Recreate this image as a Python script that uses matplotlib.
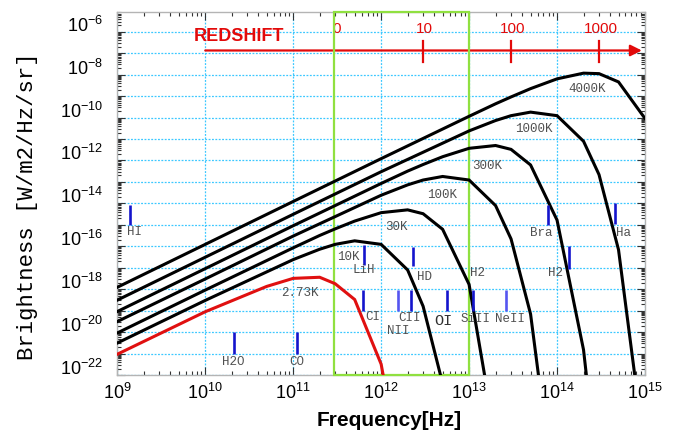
import matplotlib
matplotlib.use("Agg")
import matplotlib.pyplot as plt
import matplotlib.transforms as mtransforms
from matplotlib.patches import Rectangle
from matplotlib.ticker import FixedLocator, LogLocator, NullFormatter

plt.rcParams['font.family'] = ['Liberation Sans', 'DejaVu Sans']
plt.rcParams['mathtext.default'] = 'regular'

# ---------------- data ----------------
temp_labels = ['2.73K', '10K', '30K', '100K', '300K', '1000K', '4000K']

freq_2K = [1e9, 1e10, 5e10, 1e11, 2e11, 3e11, 5e11, 1e12, 2e12]
bright_2K = [9.3e-22, 8.9e-20, 1.35e-18, 3.2e-18, 3.6e-18, 1.8e-18, 3.3e-19, 3.2e-22, 6e-29]

freq_10K = [1e9, 1e10, 1e11, 2e11, 3e11, 5e11, 1e12, 2e12, 3e12, 5e12]
bright_10K = [3.1e-21, 3.0e-19, 2.4e-17, 7.3e-17, 1.23e-16, 1.8e-16, 1.23e-16, 7.9e-18, 1.6e-19, 4e-23]

freq_30K = [1e9, 1e10, 1e11, 2e11, 3e11, 5e11, 1e12, 2e12, 3e12, 5e12, 1e13, 2e13]
bright_30K = [9.1e-21, 9.1e-19, 8.5e-17, 3.2e-16, 6.5e-16, 1.5e-15, 3.7e-15, 5.0e-15, 3.3e-15, 6.2e-16, 1.66e-18, 1e-25]

freq_100K = [1e9, 1e10, 1e11, 1e12, 2e12, 3e12, 5e12, 1e13, 2e13, 3e13, 5e13, 1e14]
bright_100K = [3.1e-20, 3.0e-18, 3.0e-16, 2.4e-14, 7.3e-14, 1.23e-13, 1.8e-13, 1.23e-13, 7.9e-15, 2.2e-16, 6.9e-20, 2e-29]

freq_300K = [1e9, 1e10, 1e11, 1e12, 2e12, 3e12, 5e12, 1e13, 2e13, 3e13, 5e13, 1e14, 2e14, 3e14]
bright_300K = [9.1e-20, 9.1e-18, 9.1e-16, 8.5e-14, 3.2e-13, 6.5e-13, 1.5e-12, 3.7e-12, 5.0e-12, 3.3e-12, 6.2e-13, 1.66e-15, 1.5e-21, 5.6e-28]

freq_1000K = [1e9, 1e10, 1e11, 1e12, 1e13, 2e13, 3e13, 5e13, 1e14, 2e14, 3e14, 5e14, 1e15]
bright_1000K = [3.1e-19, 3.1e-17, 3.1e-15, 3.0e-13, 2.4e-11, 7.3e-11, 1.23e-10, 1.8e-10, 1.23e-10, 7.9e-12, 2.2e-13, 6.9e-17, 2e-26]

freq_4000K = [1e9, 1e10, 1e11, 1e12, 1e13, 2e13, 3e13, 5e13, 1e14, 2e14, 3e14, 5e14, 1e15]
bright_4000K = [1.23e-18, 1.23e-16, 1.23e-14, 1.22e-12, 1.15e-10, 4.4e-10, 9.2e-10, 2.24e-9, 6.4e-9, 1.18e-8, 1.12e-8, 4.6e-9, 9.1e-11]

# spectral line markers: name, frequency, lower/upper brightness of the tick
line_names = ['HI', 'H2O', 'CO', 'LiH', 'HD', 'H2', 'CI', 'NII', 'CII', 'OI', 'SiII', 'NeII', 'Bra', 'Ha']
line_freq = [1.38e9, 2.14e10, 1.10e11, 6.3e11, 2.3e12, 1.35e14, 6.2e11, 1.57e12, 2.19e12, 5.55e12, 1.1e13, 2.63e13, 7.9e13, 4.57e14]
line_lo = [1e-15, 1e-21, 1e-21, 1.3e-17, 1.2e-17, 9e-18, 1e-19, 1e-19, 1e-19, 1e-19, 1e-19, 1e-19, 1e-15, 1.1e-15]
line_hi = [8.5e-15, 1e-20, 1e-20, 1.2e-16, 9e-17, 1e-16, 9e-19, 9e-19, 9e-19, 9e-19, 9e-19, 9e-19, 8.5e-15, 1e-14]

# redshift scale
redshift_labels = ['0', '10', '100', '1000']
redshift_freq = [3.0e11, 3.0e12, 3.0e13, 3.0e14]

# observing band (green box)
band_lo, band_hi = 2.9e11, 1.0e13

# ---------------- figure ----------------
W, H = 675, 432
fig = plt.figure(figsize=(W / 100, H / 100), dpi=100)
ax = fig.add_axes([117.3 / W, 57 / H, (645 - 117.3) / W, 363 / H])
ax.set_xscale('log')
ax.set_yscale('log')
ax.set_xlim(1e9, 1e15)
ax.set_ylim(1e-22, 10 ** -5.077)
ax.set_axisbelow(True)

# grid
ax.grid(True, which='major', color='#3cc8ff', linestyle=(0, (1.5, 1.2)), linewidth=0.9)

# curves
curves = [(freq_2K, bright_2K, '#e01010'),
          (freq_10K, bright_10K, 'black'),
          (freq_30K, bright_30K, 'black'),
          (freq_100K, bright_100K, 'black'),
          (freq_300K, bright_300K, 'black'),
          (freq_1000K, bright_1000K, 'black'),
          (freq_4000K, bright_4000K, 'black')]
for f, b, c in curves:
    ax.plot(f, b, color=c, lw=2.2, zorder=3, solid_joinstyle='miter')

# curve labels
label_pos = [(1.19e11, 6.5e-19), (4.24e11, 3.3e-17), (1.51e12, 7.7e-16), (4.9e12, 2.47e-14),
             (1.59e13, 5.5e-13), (5.43e13, 2.85e-11), (2.18e14, 2.1e-9)]
for name, (x, y) in zip(temp_labels, label_pos):
    ax.text(x, y, name, color='#505050', fontsize=9, family='Liberation Mono',
            ha='center', va='center', zorder=5)

# spectral line markers
light = {'NII', 'NeII'}
for n, f, lo, hi in zip(line_names, line_freq, line_lo, line_hi):
    ax.plot([f, f], [lo, hi], color='#5555f0' if n in light else '#1414cc',
            lw=1.9, zorder=4, solid_capstyle='butt')

line_label_pos = {
    'HI': (1.55e9, 4.65e-16), 'H2O': (2.08e10, 4.2e-22), 'CO': (1.10e11, 4.2e-22),
    'LiH': (6.35e11, 7.9e-18), 'HD': (3.1e12, 3.8e-18), 'H2': (1.26e13, 5.7e-18),
    'CI': (8.05e11, 5.2e-20), 'NII': (1.58e12, 1.12e-20), 'CII': (2.1e12, 4.4e-20),
    'OI': (5.16e12, 3.3e-20), 'SiII': (1.17e13, 4.2e-20), 'NeII': (2.9e13, 4.2e-20),
    'Bra': (6.6e13, 4.0e-16), 'Ha': (5.73e14, 4.0e-16),
}
for n, (x, y) in line_label_pos.items():
    big = n == 'OI'
    ax.text(x, y, n, color='#303030' if big else '#505050', fontsize=11 if big else 9,
            family='Liberation Mono', ha='center', va='center', zorder=5)
# second H2 label (near-IR line)
ax.text(9.7e13, 5.5e-18, 'H2', color='#505050', fontsize=9, family='Liberation Mono',
        ha='center', va='center', zorder=5)

# green observing band box
trans = mtransforms.blended_transform_factory(ax.transData, ax.transAxes)
ax.add_patch(Rectangle((band_lo, 0), band_hi - band_lo, 1, transform=trans, fill=False,
                       edgecolor='#90e040', lw=1.6, zorder=2.7, clip_on=False))

# redshift scale
red = '#e20a0a'
ax.annotate('', xy=(9.2e14, 0.894), xytext=(1e10, 0.894), xycoords=trans, textcoords=trans,
            arrowprops=dict(arrowstyle='-|>', color=red, lw=1.6, mutation_scale=17,
                            shrinkA=0, shrinkB=0), zorder=2.6)
for lab, f in zip(redshift_labels, redshift_freq):
    if lab != '0':
        ax.plot([f, f], [0.862, 0.920], color=red, lw=1.6, transform=trans, zorder=2.6)
    ax.text(f * 1.04, 0.953, lab, color=red, fontsize=11, ha='center', va='center',
            transform=trans, zorder=2.5)
ax.text(2.45e10, 0.933, 'REDSHIFT', color=red, fontsize=13, fontweight='bold',
        ha='center', va='center', transform=trans)

# ticks
xt = [10.0 ** e for e in range(9, 16)]
ax.xaxis.set_major_locator(FixedLocator(xt))
ax.set_xticklabels([f'$10^{{{e}}}$' for e in range(9, 16)])
yt = [10.0 ** e for e in range(-22, -5)]
ax.yaxis.set_major_locator(FixedLocator(yt))
ax.set_yticklabels([f'$10^{{{e}}}$' if e % 2 == 0 else '' for e in range(-22, -5)])
ax.xaxis.set_minor_locator(LogLocator(base=10, subs=range(2, 10), numticks=50))
ax.yaxis.set_minor_locator(LogLocator(base=10, subs=range(2, 10), numticks=50))
ax.xaxis.set_minor_formatter(NullFormatter())
ax.yaxis.set_minor_formatter(NullFormatter())
ax.tick_params(which='both', direction='in', top=True, right=True, colors='#333333',
               labelcolor='black', labelsize=13, width=0.8)
ax.tick_params(which='major', length=6)
ax.tick_params(which='minor', length=3)
ax.tick_params(axis='x', pad=6)
ax.tick_params(axis='y', pad=10)
for t in ax.get_yticklabels():
    t.set_verticalalignment('baseline')
for s in ax.spines.values():
    s.set_color('#b4b4b4')
    s.set_linewidth(1.0)

fig.text(389.5 / W, 1 - 421 / H, 'Frequency[Hz]', fontsize=15, fontweight='bold',
         ha='center', va='center')
fig.text(28 / W, 1 - 206 / H, 'Brightness [W/m2/Hz/sr]', fontsize=16, family='Liberation Mono',
         rotation=90, ha='center', va='center')

fig.savefig('out.png', dpi=100, facecolor='white')
